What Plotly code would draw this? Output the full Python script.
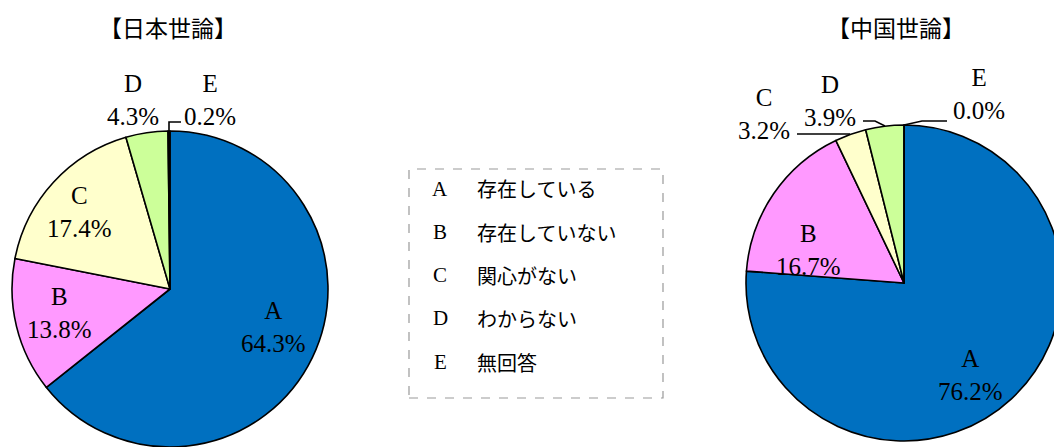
import plotly.graph_objects as go

# page body has an 8px margin, so the figure is sized to fill the rest of the window
W, H = 1054, 439
OFF = 8

categories = ["A", "B", "C", "D", "E"]
legend_labels = ["存在している", "存在していない", "関心がない", "わからない", "無回答"]
japan_values = [64.3, 13.8, 17.4, 4.3, 0.2]
china_values = [76.2, 16.7, 3.2, 3.9, 0.0]
titles = ["【日本世論】", "【中国世論】"]
colors = ["#0070C0", "#FF99FF", "#FFFFCC", "#CCFF99", "#000000"]

SERIF = "Liberation Serif, Noto Sans CJK JP"
CJK = "Noto Sans CJK JP, Liberation Serif"


def px_x(x):
    # x in screen pixels -> paper coordinate
    return (x - OFF) / W


def px_y(y):
    return 1 - (y - OFF) / H


def pie(values, x0, x1, y0, y1):
    return go.Pie(
        labels=categories, values=values, sort=False, direction="clockwise",
        rotation=0, textinfo="none", hoverinfo="label+value",
        marker=dict(colors=colors, line=dict(color="black", width=1.6)),
        domain=dict(x=[max(px_x(x0), 0), min(px_x(x1), 1)],
                    y=[max(px_y(y1), 0), min(px_y(y0), 1)]),
        showlegend=False,
    )


fig = go.Figure()
fig.add_trace(pie(japan_values, 12, 328, 131, 447))
fig.add_trace(pie(china_values, 746, 1062, 125, 441))

# label positions (screen pixel centres) for each slice
japan_label_pos = [(273, 327), (59, 313), (79, 212), (133, 100), (210, 100)]
china_label_pos = [(970, 375), (808, 250), (764, 114), (830, 101), (979, 94)]

annotations = []
for vals, pos in [(japan_values, japan_label_pos), (china_values, china_label_pos)]:
    for cat, v, (x, y) in zip(categories, vals, pos):
        annotations.append(dict(
            x=px_x(x), y=px_y(y), xref="paper", yref="paper", showarrow=False,
            text=f"{cat}<br>{v:.1f}%", font=dict(family=SERIF, size=25, color="black"),
            xanchor="center", yanchor="middle",
        ))

for t, x in zip(titles, [168, 896]):
    annotations.append(dict(
        x=px_x(x), y=1, xref="paper", yref="paper", showarrow=False,
        text=t, font=dict(family=CJK, size=23, color="black"),
        xanchor="center", yanchor="top",
    ))

# legend box text
row_y = [189, 232, 275, 318, 362]
for cat, lab, y in zip(categories, legend_labels, row_y):
    annotations.append(dict(
        x=px_x(440), y=px_y(y), xref="paper", yref="paper", showarrow=False,
        text=cat, font=dict(family=SERIF, size=21, color="black"),
        xanchor="center", yanchor="middle",
    ))
    annotations.append(dict(
        x=px_x(475), y=px_y(y), xref="paper", yref="paper", showarrow=False,
        text=lab, font=dict(family=CJK, size=20, color="black"),
        xanchor="left", yanchor="middle",
    ))

shapes = [dict(
    type="rect", xref="paper", yref="paper",
    x0=px_x(409), x1=px_x(663), y0=px_y(398), y1=px_y(169),
    line=dict(color="#999999", width=1.2, dash="dash"), fillcolor="rgba(0,0,0,0)",
)]

# leader lines for the small slices
leaders = [
    [(169, 131), (169, 122), (181, 122)],
    [(797, 134), (850, 134)],
    [(863, 121), (875, 121), (885, 126)],
    [(947, 121), (922, 121), (904, 125)],
]
for pts in leaders:
    path = "M " + " L ".join(f"{px_x(x)},{px_y(y)}" for x, y in pts)
    shapes.append(dict(type="path", xref="paper", yref="paper", path=path,
                       line=dict(color="black", width=1.6)))

fig.update_layout(
    width=W, height=H, margin=dict(l=0, r=0, t=0, b=0),
    paper_bgcolor="white", plot_bgcolor="white",
    annotations=annotations, shapes=shapes,
)

fig.write_html("out.html")
